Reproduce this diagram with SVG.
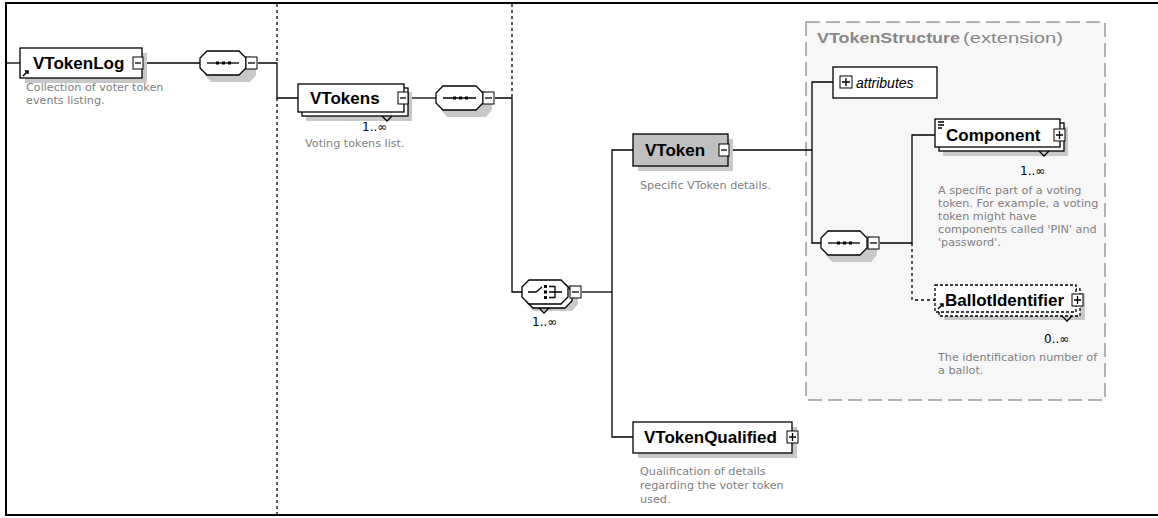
<svg xmlns="http://www.w3.org/2000/svg" width="1158" height="518" viewBox="0 0 1158 518">
<style>
.bg{fill:#ffffff}
.frame{stroke:#000;stroke-width:2;fill:none}
.ln{stroke:#000;stroke-width:1.3;fill:none}
.dot{stroke:#000;stroke-width:1.3;fill:none;stroke-dasharray:3 3}
.box{fill:#fff;stroke:#000;stroke-width:1.3}
.gbox{fill:#c0c0c0;stroke:#000;stroke-width:1.3}
.obox{fill:#fff;stroke:#000;stroke-width:1.3;stroke-dasharray:3 2}
.sh{fill:#c8c8c8}
.exp{fill:#fff;stroke:#000;stroke-width:1}
.name{font-family:"Liberation Sans",Arial,sans-serif;font-weight:bold;font-size:17px;fill:#000}
.desc{font-family:"DejaVu Sans",Verdana,sans-serif;font-size:11.2px;fill:#808080}
.occ{font-family:"DejaVu Sans",Verdana,sans-serif;font-size:12px;fill:#000}
.ext{fill:#f7f7f7;stroke:#999;stroke-width:1.5;stroke-dasharray:14 6}
.extl{font-family:"Liberation Sans",Arial,sans-serif;font-size:15px;fill:#888}
</style>
<rect class="bg" x="0" y="0" width="1158" height="518"/>
<path class="frame" d="M1158 3 H6 V515 H1158"/>

<g id="separators">
<line class="dot" x1="277" y1="4" x2="277" y2="63"/>
<line class="dot" x1="277" y1="98" x2="277" y2="514"/>
<line class="dot" x1="512" y1="4" x2="512" y2="98"/>
</g>

<g id="ext-VTokenStructure">
<rect class="ext" x="806" y="22" width="299" height="378"/>
<text class="extl" x="817" y="43" font-weight="bold" textLength="143" lengthAdjust="spacingAndGlyphs">VTokenStructure</text>
<text class="extl" x="963" y="43" textLength="100" lengthAdjust="spacingAndGlyphs">(extension)</text>
</g>

<g id="connectors">
<line class="ln" x1="7" y1="63" x2="20" y2="63"/>
<line class="ln" x1="143" y1="63" x2="200" y2="63"/>
<path class="ln" d="M258 63 H277 V98 H298"/>
<line class="ln" x1="408" y1="98" x2="436" y2="98"/>
<path class="ln" d="M495 98 H512 V292 H522"/>
<line class="ln" x1="582" y1="292" x2="612" y2="292"/>
<path class="ln" d="M633 150 H612 V437 H633"/>
<line class="ln" x1="730" y1="150" x2="812" y2="150"/>
<path class="ln" d="M833 82 H812 V243 H821"/>
<path class="ln" d="M880 243 H912 V135 H935"/>
<path class="dot" d="M912 243 V300 H935"/>
</g>

<g id="VTokenLog">
<rect class="sh" x="25" y="53" width="122" height="30"/>
<rect class="box" x="20" y="48" width="122" height="30"/>
<text class="name" x="33" y="69">VTokenLog</text>
<rect class="exp" x="133" y="57" width="10" height="12"/>
<line class="ln" x1="135" y1="63" x2="141" y2="63"/>
<path d="M23 76 L28 71 M25 71 H28 V74" stroke="#000" stroke-width="1.5" fill="none"/>
<text class="desc" x="26" y="91">Collection of voter token</text>
<text class="desc" x="26" y="104">events listing.</text>
</g>

<g id="seq1">
<polygon class="sh" points="211,56 250,56 256,63 256,75 250,82 211,82 205,75 205,63"/>
<polygon class="box" points="207,51 239,51 246,58 246,68 239,75 207,75 200,68 200,58"/>
<line class="ln" x1="207" y1="63" x2="239" y2="63"/>
<rect x="216" y="61.5" width="3" height="3"/><rect x="222" y="61.5" width="3" height="3"/><rect x="228" y="61.5" width="3" height="3"/>
<rect class="exp" x="246" y="57" width="11" height="12"/>
<line class="ln" x1="248" y1="63" x2="255" y2="63"/>
</g>

<g id="VTokens">
<rect class="sh" x="306" y="92" width="106" height="29"/>
<rect class="box" x="302" y="88" width="106" height="28"/>
<rect class="box" x="298" y="84" width="106" height="28"/>
<text class="name" x="310" y="104">VTokens</text>
<rect class="exp" x="398" y="92" width="10" height="12"/>
<line class="ln" x1="400" y1="98" x2="406" y2="98"/>
<path class="ln" d="M382 116 L387 121 L392 116" />
<text class="occ" x="362" y="131">1..∞</text>
<text class="desc" x="305" y="147">Voting tokens list.</text>
</g>

<g id="seq2">
<polygon class="sh" points="447,91 486,91 492,98 492,110 486,117 447,117 441,110 441,98"/>
<polygon class="box" points="443,86 476,86 483,93 483,103 476,110 443,110 436,103 436,93"/>
<line class="ln" x1="443" y1="98" x2="476" y2="98"/>
<rect x="453" y="96.5" width="3" height="3"/><rect x="459" y="96.5" width="3" height="3"/><rect x="465" y="96.5" width="3" height="3"/>
<rect class="exp" x="483" y="92" width="11" height="12"/>
<line class="ln" x1="485" y1="98" x2="492" y2="98"/>
</g>

<g id="choice">
<polygon class="sh" points="533,285 572,285 578,292 578,304 572,311 533,311 527,304 527,292"/>
<polygon class="box" points="533,284 565,284 572,291 572,301 565,308 533,308 526,301 526,291"/>
<polygon class="box" points="529,280 561,280 568,287 568,297 561,304 529,304 522,297 522,287"/>
<path class="ln" d="M528 292 H536 L542 287"/>
<rect x="544" y="285" width="3" height="3"/><rect x="544" y="290.5" width="3" height="3"/><rect x="544" y="296" width="3" height="3"/>
<path class="ln" d="M549 286.5 H555 V297.5 H549 M549 292 H562"/>
<rect class="exp" x="570" y="286" width="11" height="12"/>
<line class="ln" x1="572" y1="292" x2="579" y2="292"/>
<path class="ln" d="M539 308 L544 313 L549 308"/>
<text class="occ" x="532" y="326">1..∞</text>
</g>

<g id="VToken">
<rect class="sh" x="638" y="139" width="95" height="32"/>
<rect class="gbox" x="633" y="134" width="95" height="32"/>
<text class="name" x="645" y="156">VToken</text>
<rect class="exp" x="719" y="144" width="10" height="12"/>
<line class="ln" x1="721" y1="150" x2="727" y2="150"/>
<text class="desc" x="640" y="189">Specific VToken details.</text>
</g>

<g id="attributes">
<rect class="box" x="833" y="67" width="104" height="31"/>
<rect class="exp" x="840" y="76" width="12" height="12"/>
<path class="ln" d="M842 82 H850 M846 78 V86"/>
<text x="856" y="88" font-family="Liberation Sans,Arial,sans-serif" font-style="italic" font-size="14px">attributes</text>
</g>

<g id="seq3">
<polygon class="sh" points="832,236 871,236 877,243 877,255 871,262 832,262 826,255 826,243"/>
<polygon class="box" points="828,231 860,231 867,238 867,248 860,255 828,255 821,248 821,238"/>
<line class="ln" x1="828" y1="243" x2="860" y2="243"/>
<rect x="837" y="241.5" width="3" height="3"/><rect x="843" y="241.5" width="3" height="3"/><rect x="849" y="241.5" width="3" height="3"/>
<rect class="exp" x="868" y="237" width="11" height="12"/>
<line class="ln" x1="870" y1="243" x2="877" y2="243"/>
</g>

<g id="Component">
<rect class="sh" x="943" y="127" width="125" height="29"/>
<rect class="box" x="939" y="123" width="125" height="28"/>
<rect class="box" x="935" y="119" width="125" height="28"/>
<path class="ln" d="M938 122 H944 M938 125 H944 M938 128 H942"/>
<text class="name" x="946" y="141">Component</text>
<rect class="exp" x="1054" y="129" width="11" height="12"/>
<path class="ln" d="M1056 135 H1063 M1059.5 131 V139"/>
<path class="ln" d="M1039 151 L1044 156 L1049 151"/>
<text class="occ" x="1020" y="175">1..∞</text>
<text class="desc" x="938" y="194">A specific part of a voting</text>
<text class="desc" x="938" y="207">token. For example, a voting</text>
<text class="desc" x="938" y="220">token might have</text>
<text class="desc" x="938" y="233">components called 'PIN' and</text>
<text class="desc" x="938" y="246">'password'.</text>
</g>

<g id="BallotIdentifier">
<rect class="sh" x="944" y="293" width="141" height="27"/>
<rect class="obox" x="939" y="289" width="141" height="27"/>
<rect class="obox" x="935" y="285" width="141" height="27"/>
<text class="name" x="945" y="306">BallotIdentifier</text>
<rect class="exp" x="1072" y="294" width="11" height="12"/>
<path class="ln" d="M1074 300 H1081 M1077.5 296 V304"/>
<path d="M938 309 L943 304 M940 304 H943 V307" stroke="#000" stroke-width="1.5" fill="none"/>
<path class="ln" d="M1062 316 L1067 321 L1072 316"/>
<text class="occ" x="1044" y="343">0..∞</text>
<text class="desc" x="938" y="361">The identification number of</text>
<text class="desc" x="938" y="374">a ballot.</text>
</g>

<g id="VTokenQualified">
<rect class="sh" x="638" y="427" width="159" height="31"/>
<rect class="box" x="633" y="422" width="159" height="31"/>
<text class="name" x="644" y="443">VTokenQualified</text>
<rect class="exp" x="787" y="431" width="11" height="12"/>
<path class="ln" d="M789 437 H796 M792.5 433 V441"/>
<text class="desc" x="640" y="475">Qualification of details</text>
<text class="desc" x="640" y="489">regarding the voter token</text>
<text class="desc" x="640" y="503">used.</text>
</g>
</svg>
